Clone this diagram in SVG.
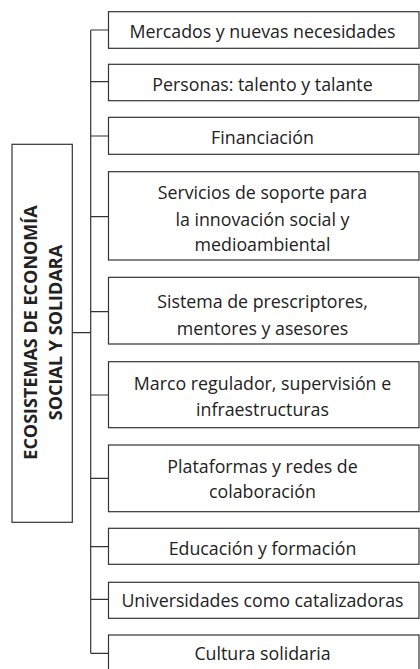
<svg xmlns="http://www.w3.org/2000/svg" width="420" height="669" viewBox="0 0 420 669">
<style>
.box{fill:#fff;stroke:#333;stroke-width:1.2}
.ln{fill:none;stroke:#333;stroke-width:1.2}
.t{font-family:"Open Sans",sans-serif;font-size:17.8px;fill:#222;text-anchor:middle}
.h{font-family:"Open Sans",sans-serif;font-size:18px;font-weight:bold;fill:#222;text-anchor:middle}
</style>
<rect width="420" height="669" fill="#fff"/>
<g id="connectors">
<path class="ln" d="M90.7,30V653.3M72.3,332.7H90.7M90.7,30H108.5M90.7,81.7H108.5M90.7,136H108.5M90.7,216.7H108.5M90.7,311.7H108.5M90.7,395H108.5M90.7,478.3H108.5M90.7,546.7H108.5M90.7,599.3H108.5M90.7,653.3H108.5"/>
</g>
<g id="root">
<rect class="box" x="12" y="144.3" width="60.3" height="378"/>
<text class="h" transform="rotate(-90)" x="-332.5" y="36.7">ECOSISTEMAS DE ECONOMÍA</text>
<text class="h" transform="rotate(-90)" x="-332.5" y="62">SOCIAL Y SOLIDARA</text>
</g>
<g id="n1"><rect class="box" x="108.5" y="11.7" width="310.5" height="36.6"/><text class="t" x="262.5" y="38.3">Mercados y nuevas necesidades</text></g>
<g id="n2"><rect class="box" x="108.5" y="64.3" width="310.5" height="36.4"/><text class="t" x="262.5" y="90.7">Personas: talento y talante</text></g>
<g id="n3"><rect class="box" x="108.5" y="117.3" width="310.5" height="37"/><text class="t" x="262.5" y="144">Financiación</text></g>
<g id="n4"><rect class="box" x="108.5" y="171.7" width="310.5" height="88.3"/><text class="t" x="262.5" y="199.3">Servicios de soporte para</text><text class="t" x="262.5" y="225.5">la innovación social y</text><text class="t" x="262.5" y="251">medioambiental</text></g>
<g id="n5"><rect class="box" x="108.5" y="277.3" width="310.5" height="66.7"/><text class="t" x="262.5" y="308.3">Sistema de prescriptores,</text><text class="t" x="262.5" y="335">mentores y asesores</text></g>
<g id="n6"><rect class="box" x="108.5" y="361.7" width="310.5" height="66"/><text class="t" x="262.5" y="390">Marco regulador, supervisión e</text><text class="t" x="262.5" y="416">infraestructuras</text></g>
<g id="n7"><rect class="box" x="108.5" y="445" width="310.5" height="66.7"/><text class="t" x="262.5" y="473.3">Plataformas y redes de</text><text class="t" x="262.5" y="498.3">colaboración</text></g>
<g id="n8"><rect class="box" x="108.5" y="528.3" width="310.5" height="36"/><text class="t" x="262.5" y="555">Educación y formación</text></g>
<g id="n9"><rect class="box" x="108.5" y="582.3" width="310.5" height="36"/><text class="t" x="262.5" y="607.3">Universidades como catalizadoras</text></g>
<g id="n10"><rect class="box" x="108.5" y="635" width="310.5" height="40"/><text class="t" x="262.5" y="660">Cultura solidaria</text></g>
</svg>
